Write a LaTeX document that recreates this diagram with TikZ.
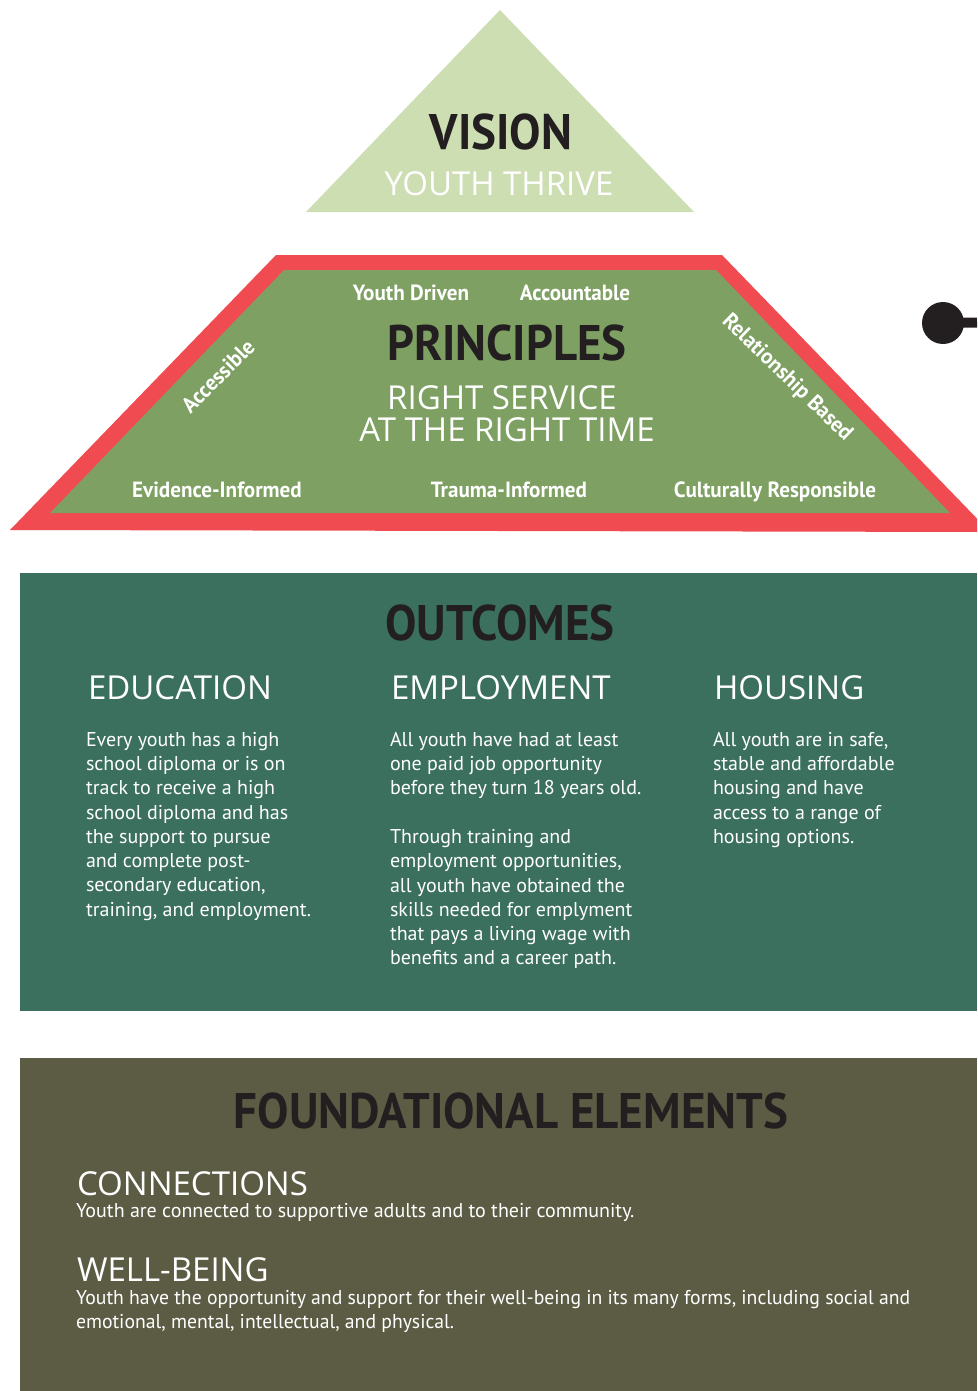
\documentclass[tikz,border=0pt]{standalone}
\usepackage{fontspec}
\setmainfont{PT Sans}
\newfontfamily\condf{PT Sans}[FakeStretch=0.94]
\newfontfamily\tagf{PT Sans}[FakeStretch=0.96]
\newfontfamily\handf{Open Sans}
\newfontfamily\narrowbody{PT Sans}[FakeStretch=0.985]
\definecolor{visiongreen}{HTML}{CCDEB2}
\definecolor{princgreen}{HTML}{7EA062}
\definecolor{princred}{HTML}{EF4B51}
\definecolor{outgreen}{HTML}{3B705E}
\definecolor{foundolive}{HTML}{5C5C45}
\definecolor{darktext}{HTML}{231F20}
\tikzset{
  lbl/.style={inner sep=0pt, outer sep=0pt},
  bigtitle/.style={lbl, text=darktext, font=\condf\bfseries\fontsize{50}{60}\selectfont},
  hand/.style={lbl, text=white, font=\handf\fontsize{33}{40}\selectfont},
  tag/.style={lbl, text=white, font=\tagf\bfseries\fontsize{22}{26}\selectfont},
  body/.style={lbl, text=white, align=left, font=\fontsize{20}{24.3}\selectfont},
}
\begin{document}
\begin{tikzpicture}[x=1pt,y=-1pt]
\useasboundingbox (0,0) rectangle (977,1391);
\clip (0,0) rectangle (977,1391);
% Vision
\fill[visiongreen] (500,10) -- (694,212) -- (306,212) -- cycle;
\node[bigtitle, anchor=base] (vision) at (501,150) {VISION};
\node[hand, anchor=base] (thrive) at (499,196) {YOUTH THRIVE};
% Principles
\fill[princred] (276,255) -- (722,255) -- (990,532) -- (10,530) -- cycle;
\fill[princgreen] (284,270) -- (716,270) -- (950,513) -- (50,513) -- cycle;
\node[bigtitle, anchor=base] (principles) at (507,360) {PRINCIPLES};
\node[hand, anchor=base] (rs1) at (502,409) {RIGHT SERVICE};
\node[hand, anchor=base] (rs2) at (507,441) {AT THE RIGHT TIME};
\node[tag, anchor=base] (ydriven) at (411,300) {Youth Driven};
\node[tag, anchor=base] (account) at (575,300) {Accountable};
\node[tag, rotate=45] (access) at (218,376) {Accessible};
\node[tag, rotate=-44] (relation) at (787,378) {Relationship Based};
\node[tag, anchor=base] (evid) at (217,497) {Evidence-Informed};
\node[tag, anchor=base] (trauma) at (509,497) {Trauma-Informed};
\node[tag, anchor=base] (cultur) at (775,497) {Culturally Responsible};
% connector dot
\node[circle, fill=darktext, minimum size=42pt, inner sep=0pt] (dot) at (943,323) {};
\coordinate (dotend) at (977,322.5);
\draw[darktext, line width=10pt] (dot.center) -- (dotend);
% Outcomes
\fill[outgreen] (20,573) rectangle (977,1011);
\node[bigtitle, anchor=base] (outcomes) at (500,640) {OUTCOMES};
\node[hand, anchor=base west] (edu) at (88,699) {EDUCATION};
\node[hand, anchor=base west] (emp) at (391,699) {EMPLOYMENT};
\node[hand, anchor=base west] (hou) at (714,699) {HOUSING};
\node[body, anchor=north west] (edutext) at (86,732) {Every youth has a high\\school diploma or is on\\track to receive a high\\school diploma and has\\the support to pursue\\and complete post-\\secondary education,\\training, and employment.};
\node[body, anchor=north west] (emptext) at (390,732) {All youth have had at least\\one paid job opportunity\\before they turn 18 years old.\\[24.3pt]Through training and\\employment opportunities,\\all youth have obtained the\\skills needed for emplyment\\that pays a living wage with\\benefits and a career path.};
\node[body, anchor=north west] (houtext) at (713,732) {All youth are in safe,\\stable and affordable\\housing and have\\access to a range of\\housing options.};
% Foundational elements
\fill[foundolive] (20,1058) rectangle (977,1391);
\node[bigtitle, anchor=base] (found) at (511,1128) {FOUNDATIONAL ELEMENTS};
\node[hand, anchor=base west] (conn) at (77,1195) {CONNECTIONS};
\node[body, anchor=base west] (conntext) at (76,1217) {Youth are connected to supportive adults and to their community.};
\node[hand, anchor=base west] (well) at (77,1281) {WELL-BEING};
\node[body, anchor=north west, font=\narrowbody\fontsize{20}{24.5}\selectfont] (welltext) at (76,1290) {Youth have the opportunity and support for their well-being in its many forms, including social and\\emotional, mental, intellectual, and physical.};
\end{tikzpicture}
\end{document}
